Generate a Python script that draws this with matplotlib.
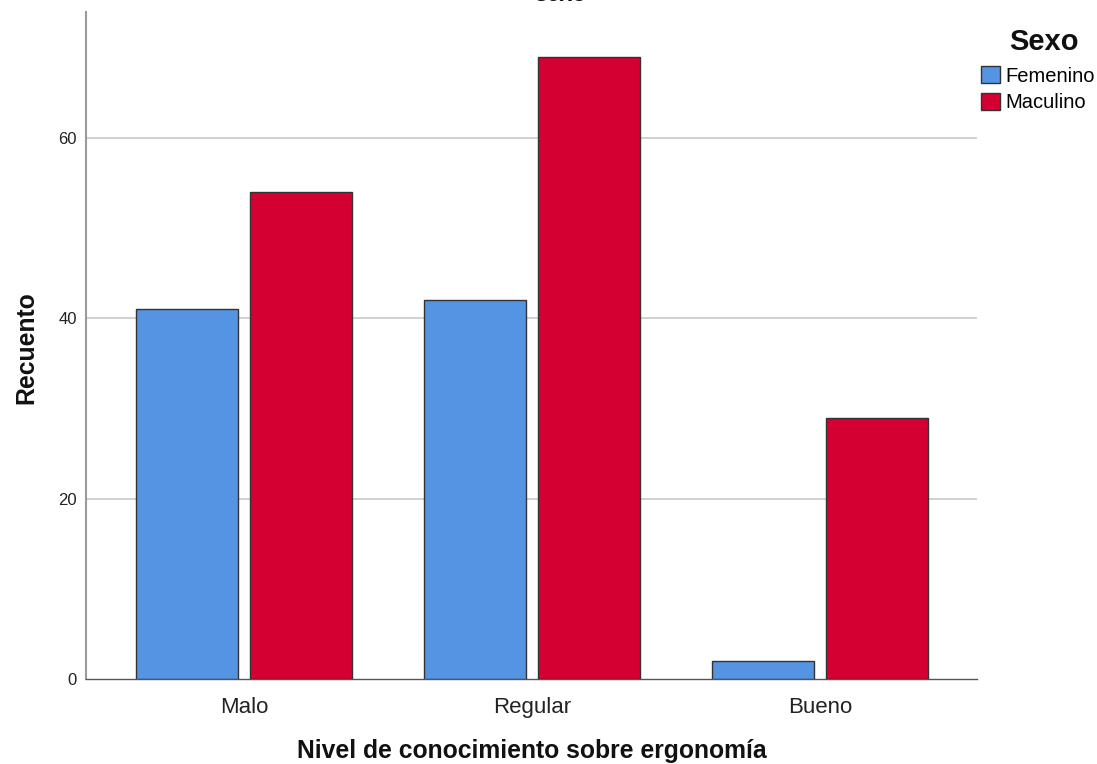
import matplotlib
matplotlib.use("Agg")
import matplotlib.pyplot as plt
from matplotlib.patches import Patch
import numpy as np

plt.rcParams["font.family"] = ["Liberation Sans", "DejaVu Sans"]

categories = ["Malo", "Regular", "Bueno"]
femenino = [41, 42, 2]
masculino = [54, 69, 29]
series_names = ["Femenino", "Maculino"]
yticks = [0, 20, 40, 60]

blue = "#5594E3"
red = "#D50032"
edge = "#333333"

W, H = 1097, 764
fig = plt.figure(figsize=(W/100, H/100), dpi=100)
ax = fig.add_axes([86/W, 1-679/H, (977-86)/W, (679-12)/H])

x = np.arange(len(categories))
w = 0.354
off = 0.198
ax.bar(x - off, femenino, width=w, color=blue, edgecolor=edge, linewidth=1.0, zorder=3)
ax.bar(x + off, masculino, width=w, color=red, edgecolor=edge, linewidth=1.0, zorder=3)

ax.set_xlim(-0.548, 2.545)
ax.set_ylim(0, 74)
ax.set_yticks(yticks)
ax.set_yticklabels([str(t) for t in yticks], fontsize=12, color="#222222")
ax.set_xticks(x)
ax.set_xticklabels(categories, fontsize=16, color="#222222")
ax.tick_params(axis="both", length=0)
ax.tick_params(axis="y", pad=6.5)
ax.tick_params(axis="x", pad=13)

for t in yticks[1:]:
    ax.axhline(t, color="#c8c8c8", linewidth=1.2, zorder=1)

for s in ["top", "right"]:
    ax.spines[s].set_visible(False)
ax.spines["left"].set_color("#9a9a9a")
ax.spines["left"].set_linewidth(1.5)
ax.spines["bottom"].set_color("#555555")
ax.spines["bottom"].set_linewidth(1.0)

fig.text(532/W, 1-758/H, "Nivel de conocimiento sobre ergonomía", ha="center",
         va="baseline", fontsize=17.8, fontweight="bold", color="#111111")
fig.text(33/W, 1-347.5/H, "Recuento", ha="center", va="baseline", rotation=90,
         rotation_mode="anchor", fontsize=17.8, fontweight="bold", color="#111111")

fig.text(560/W, 1-1/H, "sexo", ha="center", va="baseline", fontsize=16.5,
         fontweight="bold", color="#111111")

fig.text(1044/W, 1-50/H, "Sexo", ha="center", va="baseline", fontsize=21,
         fontweight="bold", color="#111111")

handles = [Patch(facecolor=blue, edgecolor=edge, label=series_names[0]),
           Patch(facecolor=red, edgecolor=edge, label=series_names[1])]
leg = fig.legend(handles=handles, loc="upper left",
                 bbox_to_anchor=(981/W, 1-66.5/H), frameon=False,
                 fontsize=14.5, handlelength=0.95, handleheight=0.9,
                 handletextpad=0.25, labelspacing=0.36, borderaxespad=0,
                 borderpad=0)

fig.savefig("out.png", dpi=100)
